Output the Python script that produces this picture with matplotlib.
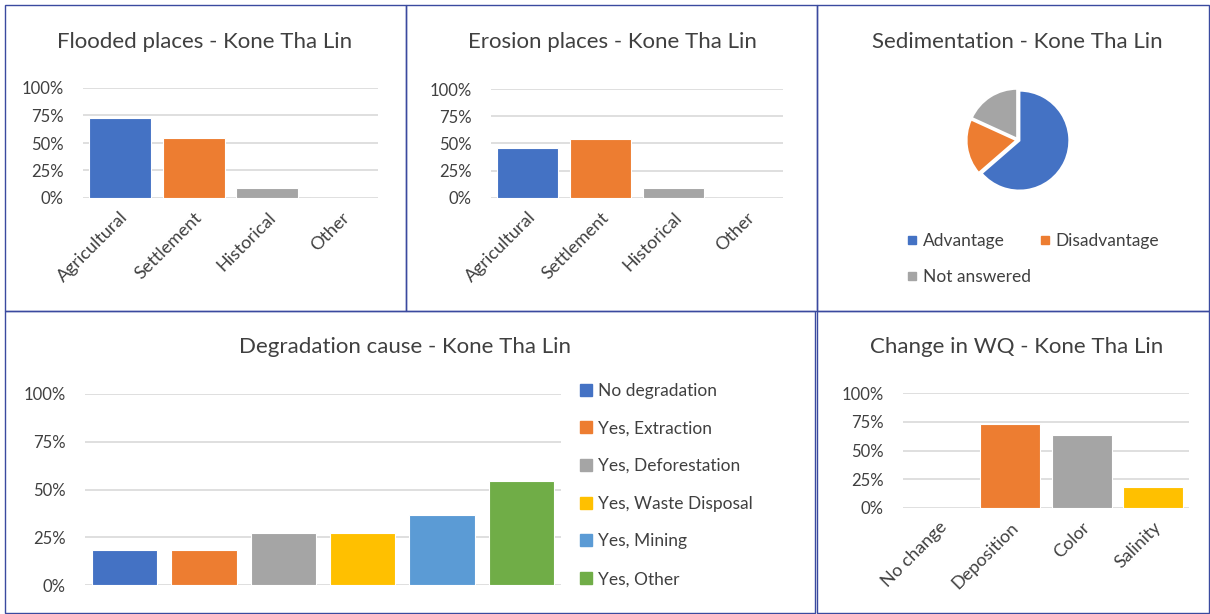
import matplotlib
matplotlib.use("Agg")
import matplotlib.pyplot as plt
from matplotlib.patches import Rectangle
from matplotlib.lines import Line2D
from matplotlib.ticker import PercentFormatter

plt.rcParams['font.family'] = ['Lato', 'DejaVu Sans']

# data (share of 11 respondents)
place_cats = ['Agricultural', 'Settlement', 'Historical', 'Other']
flooded_vals = [0.727, 0.545, 0.091, 0.0]
erosion_vals = [0.455, 0.545, 0.091, 0.0]

sed_labels = ['Advantage', 'Disadvantage', 'Not answered']
sed_vals = [7, 2, 2]

degr_labels = ['No degradation', 'Yes, Extraction', 'Yes, Deforestation',
               'Yes, Waste Disposal', 'Yes, Mining', 'Yes, Other']
degr_vals = [0.182, 0.182, 0.273, 0.273, 0.364, 0.545]

wq_cats = ['No change', 'Deposition', 'Color', 'Salinity']
wq_vals = [0.0, 0.727, 0.636, 0.182]

BLUE, ORANGE, GRAY, YELLOW, LBLUE, GREEN = ('#4472C4', '#ED7D31', '#A5A5A5',
                                            '#FFC000', '#5B9BD5', '#70AD47')
TXT = '#404040'
GRID = '#D9D9D9'
BORDER = '#3A4A9F'

W, H = 1210, 614
fig = plt.figure(figsize=(W / 100, H / 100), dpi=100)


def px_axes(left, top, right, bottom):
    return fig.add_axes([left / W, 1 - bottom / H, (right - left) / W, (bottom - top) / H])


def style_bar_axes(ax):
    ax.set_ylim(0, 1)
    ax.set_yticks([0, 0.25, 0.5, 0.75, 1.0])
    ax.yaxis.set_major_formatter(PercentFormatter(1.0, decimals=0))
    ax.grid(axis='y', color=GRID, linewidth=1.2)
    ax.set_axisbelow(True)
    for s in ax.spines.values():
        s.set_visible(False)
    ax.tick_params(length=0, colors=TXT, labelsize=12)
    ax.tick_params(axis='y', pad=14)


def bar_panel(ax, cats, vals, colors, title, tx, ty):
    x = range(len(cats))
    ax.bar(x, vals, width=0.84, color=colors, edgecolor='white', linewidth=0.8)
    ax.set_xlim(-0.5, len(cats) - 0.5)
    style_bar_axes(ax)
    ax.set_xticks(list(x))
    ax.set_xticklabels(cats, rotation=45, ha='right', rotation_mode='anchor', fontsize=13)
    ax.tick_params(axis='x', pad=8)
    fig.text(tx / W, 1 - ty / H, title, ha='center', va='center', fontsize=16, color=TXT)


# panel borders
for (l, t, r, b) in [(5, 5, 406, 311), (406, 5, 817, 311), (817, 5, 1209, 311),
                     (5, 311, 815, 613), (817, 311, 1209, 613)]:
    fig.add_artist(Rectangle((l / W, 1 - b / H), (r - l) / W, (b - t) / H,
                             transform=fig.transFigure, fill=False,
                             edgecolor=BORDER, linewidth=1.0))

# flooded places
ax1 = px_axes(83, 88, 378, 198)
bar_panel(ax1, place_cats, flooded_vals, [BLUE, ORANGE, GRAY, YELLOW],
          'Flooded places - Kone Tha Lin', 205, 42)

# erosion places
ax2 = px_axes(491, 89, 783, 198)
bar_panel(ax2, place_cats, erosion_vals, [BLUE, ORANGE, GRAY, YELLOW],
          'Erosion places - Kone Tha Lin', 612, 42)

# sedimentation pie
ax3 = px_axes(966, 88, 1070, 192)
ax3.pie(sed_vals, colors=[BLUE, ORANGE, GRAY], startangle=90, counterclock=False,
        explode=[0.03, 0.03, 0.03], wedgeprops=dict(edgecolor='white', linewidth=1.5))
ax3.set_xlim(-1.04, 1.04)
ax3.set_ylim(-1.04, 1.04)
ax3.set_aspect('equal')
fig.text(1017 / W, 1 - 42 / H, 'Sedimentation - Kone Tha Lin', ha='center', va='center',
         fontsize=16, color=TXT)
sed_colors = [BLUE, ORANGE, GRAY]
order = [0, 2, 1]  # row-wise fill for a 2-column legend
sed_handles = [Line2D([], [], marker='s', linestyle='none', markersize=6, color=sed_colors[i])
               for i in order]
fig.legend(sed_handles, [sed_labels[i] for i in order], ncol=2, loc='upper left',
           bbox_to_anchor=(888 / W, 1 - 217 / H), frameon=False, fontsize=12.5,
           labelcolor=TXT, handletextpad=0.1, columnspacing=0.3, labelspacing=1.2,
           handlelength=1.0)

# degradation cause
ax4 = px_axes(85, 394, 561, 585)
dcols = [BLUE, ORANGE, GRAY, YELLOW, LBLUE, GREEN]
ax4.bar(range(len(degr_vals)), degr_vals, width=0.82, color=dcols,
        edgecolor='white', linewidth=0.8)
ax4.set_xlim(-0.5, len(degr_vals) - 0.5)
style_bar_axes(ax4)
ax4.set_xticks([])
fig.text(405 / W, 1 - 347 / H, 'Degradation cause - Kone Tha Lin', ha='center', va='center',
         fontsize=16, color=TXT)
degr_handles = [Line2D([], [], marker='s', linestyle='none', markersize=8, color=c)
                for c in dcols]
fig.legend(degr_handles, degr_labels, loc='upper left',
           bbox_to_anchor=(562 / W, 1 - 367 / H), frameon=False, fontsize=12.5,
           labelcolor=TXT, handletextpad=0.2, labelspacing=1.25, handlelength=1.0)

# change in WQ
ax5 = px_axes(903, 393, 1189, 508)
bar_panel(ax5, wq_cats, wq_vals, [BLUE, ORANGE, GRAY, YELLOW],
          'Change in WQ - Kone Tha Lin', 1017, 347)

fig.savefig('out.png', dpi=100, facecolor='white')
